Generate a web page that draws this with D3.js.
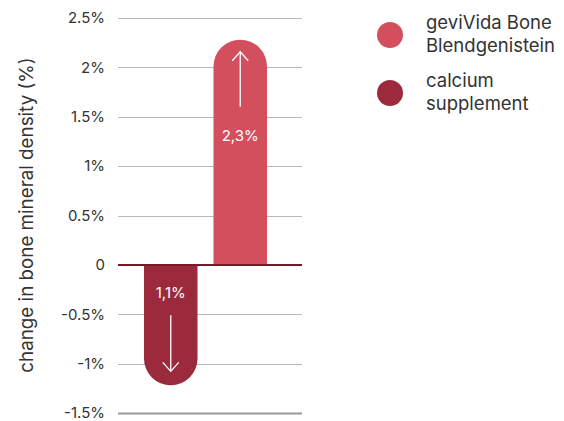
<!DOCTYPE html>
<html>
<head>
<meta charset="utf-8">
<script src="https://cdn.jsdelivr.net/npm/d3@7"></script>
<style>
  body { margin: 0; background: #fff; }
  svg text { font-family: Inter, "Noto Sans", sans-serif; }
</style>
</head>
<body>
<svg id="chart" width="564" height="421"></svg>
<script>
// data
var categories = ["calcium supplement", "geviVida Bone Blendgenistein"];
var values = [-1.22, 2.28];
var valueLabels = ["1,1%", "2,3%"];
var barColors = ["#9b2a3c", "#d44f5d"];
var yTicks = [2.5, 2, 1.5, 1, 0.5, 0, -0.5, -1, -1.5];
var legendLines = [["geviVida Bone", "Blendgenistein"], ["calcium", "supplement"]];
var legendColors = ["#d44f5d", "#9b2a3c"];

var svg = d3.select("#chart");

var y = d3.scaleLinear().domain([-1.5, 2.5]).range([413, 18]);
var x = d3.scaleBand().domain(categories).range([144, 267]).paddingInner(0.23).paddingOuter(0);

// grid lines
svg.append("g").selectAll("line")
    .data(yTicks)
    .enter().append("line")
    .attr("x1", 118).attr("x2", 302)
    .attr("y1", function(d) { return Math.round(y(d)) + 0.5; })
    .attr("y2", function(d) { return Math.round(y(d)) + 0.5; })
    .attr("stroke", function(d) { return d == -1.5 ? "#999" : "#b8b8b8"; })
    .attr("stroke-width", function(d) { return d == -1.5 ? 2 : 1; });

// tick labels
var fmt = function(d) { return d == 0 ? "0" : (d < 0 ? "-" + Math.abs(d) : d) + "%"; };
svg.append("g").selectAll("text")
    .data(yTicks)
    .enter().append("text")
    .attr("x", 105)
    .attr("y", function(d) { return y(d); })
    .attr("dy", "0.35em")
    .attr("text-anchor", "end")
    .attr("font-size", 15)
    .attr("fill", "#333")
    .text(fmt);

// y title
svg.append("text")
    .attr("transform", "translate(33," + 215 + ") rotate(-90)")
    .attr("text-anchor", "middle")
    .attr("font-size", 18.8)
    .attr("fill", "#333")
    .text("change in bone mineral density (%)");

// bars with one rounded end
function barPath(d, i) {
    var x0 = x(categories[i]), w = x.bandwidth(), r = w / 2;
    var y0 = y(0), y1 = y(d);
    if (d >= 0) {
        return "M" + x0 + "," + y0 + "V" + (y1 + r) +
            "A" + r + "," + r + " 0 0 1 " + (x0 + w) + "," + (y1 + r) +
            "V" + y0 + "Z";
    }
    return "M" + x0 + "," + y0 + "V" + (y1 - r) +
        "A" + r + "," + r + " 0 0 0 " + (x0 + w) + "," + (y1 - r) +
        "V" + y0 + "Z";
}

svg.append("g").selectAll("path")
    .data(values)
    .enter().append("path")
    .attr("d", barPath)
    .attr("fill", function(d, i) { return barColors[i]; });

// zero line
svg.append("line")
    .attr("x1", 118).attr("x2", 302)
    .attr("y1", y(0)).attr("y2", y(0))
    .attr("stroke", "#7a1828")
    .attr("stroke-width", 2);

// arrows and labels inside bars
values.forEach(function(d, i) {
    var cx = x(categories[i]) + x.bandwidth() / 2;
    var g = svg.append("g").attr("stroke", "#fff").attr("stroke-width", 1.3).attr("fill", "none");
    var ya, yb, lblY;
    if (d >= 0) {
        ya = y(d) + 12; yb = y(d) + 67; lblY = y(d) + 96;
        g.append("line").attr("x1", cx).attr("x2", cx).attr("y1", ya).attr("y2", yb);
        g.append("polyline").attr("points", (cx - 8) + "," + (ya + 9) + " " + cx + "," + ya + " " + (cx + 8) + "," + (ya + 9));
    } else {
        ya = y(d) - 14; yb = y(d) - 70; lblY = y(0) + 28;
        g.append("line").attr("x1", cx).attr("x2", cx).attr("y1", yb).attr("y2", ya);
        g.append("polyline").attr("points", (cx - 8) + "," + (ya - 9) + " " + cx + "," + ya + " " + (cx + 8) + "," + (ya - 9));
    }
    svg.append("text")
        .attr("x", cx).attr("y", lblY)
        .attr("dy", "0.35em")
        .attr("text-anchor", "middle")
        .attr("font-size", 15)
        .attr("fill", "#fff")
        .text(valueLabels[i]);
});

// legend
var leg = svg.append("g").selectAll("g")
    .data(legendLines)
    .enter().append("g")
    .attr("transform", function(d, i) { return "translate(390," + (35 + i * 58) + ")"; });

leg.append("circle")
    .attr("r", 13)
    .attr("fill", function(d, i) { return legendColors[i]; });

leg.append("text")
    .attr("x", 36)
    .attr("font-size", 18.5)
    .attr("fill", "#333")
    .selectAll("tspan")
    .data(function(d) { return d; })
    .enter().append("tspan")
    .attr("x", 36)
    .attr("y", function(d, i) { return i == 0 ? -12 : 11; })
    .attr("dy", "0.35em")
    .text(function(d) { return d; });
</script>
</body>
</html>
